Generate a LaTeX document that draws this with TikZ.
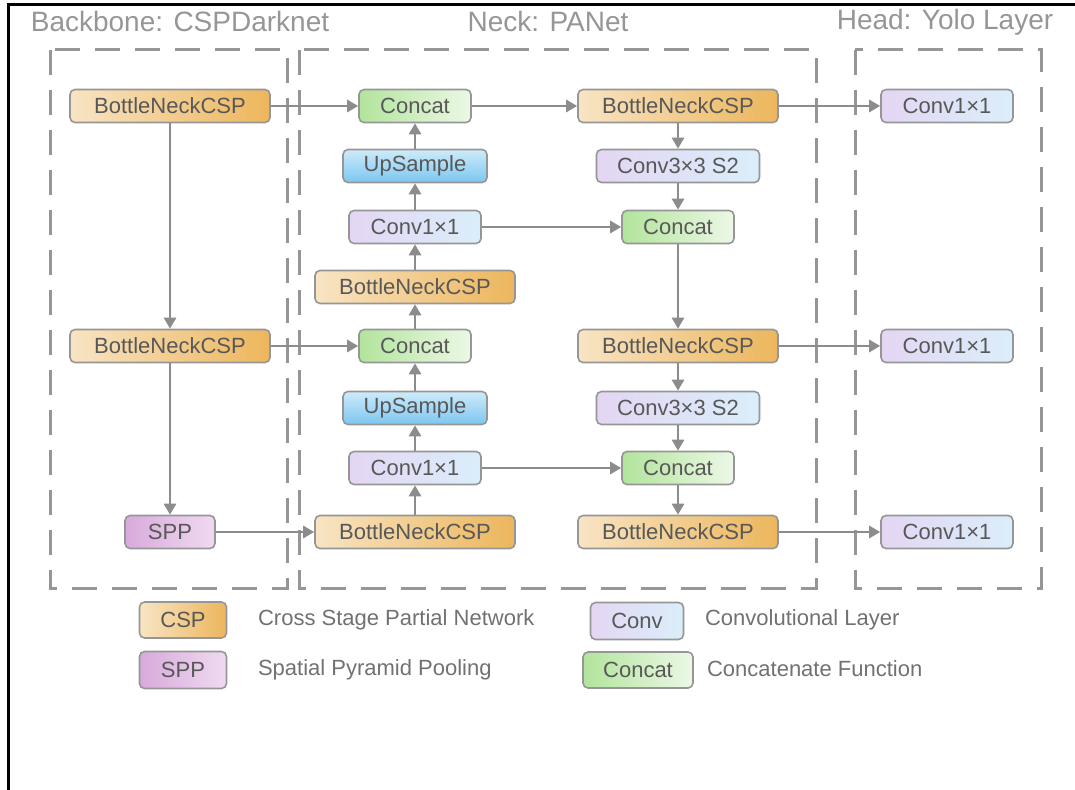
\documentclass[tikz,border=0pt]{standalone}
\usepackage{fontspec}
\setmainfont{Liberation Sans}
\usepackage{tikz}
\usepackage{xcolor}
\usetikzlibrary{arrows.meta}
\pgfdeclarelayer{bg}
\pgfsetlayers{bg,main}
\definecolor{Frame-G}{RGB}{150, 150, 150}
\definecolor{Edge-G}{RGB}{140, 140, 140}
\definecolor{Text-G}{RGB}{88, 88, 88}
\definecolor{Title-G}{RGB}{150, 150, 150}
\definecolor{Csp-A}{RGB}{248, 228, 196}
\definecolor{Csp-B}{RGB}{236, 182, 92}
\definecolor{Conv-A}{RGB}{228, 214, 243}
\definecolor{Conv-B}{RGB}{218, 238, 250}
\definecolor{Cat-A}{RGB}{178, 228, 156}
\definecolor{Cat-B}{RGB}{236, 248, 230}
\definecolor{Up-A}{RGB}{206, 235, 250}
\definecolor{Up-B}{RGB}{124, 198, 240}
\definecolor{Spp-A}{RGB}{216, 170, 220}
\definecolor{Spp-B}{RGB}{240, 218, 240}

\tikzset{
    block/.style={draw=Frame-G, line width=0.8pt, rounded corners=2.5pt, inner sep=0pt,
	minimum height=16.5pt, text=Text-G, font=\fontsize{11}{13}\selectfont},
    csp/.style={block, left color=Csp-A, right color=Csp-B, minimum width=100pt},
    conv/.style={block, left color=Conv-A, right color=Conv-B, minimum width=66pt},
    concat/.style={block, left color=Cat-A, right color=Cat-B, minimum width=56pt},
    upsample/.style={block, top color=Up-A, bottom color=Up-B, minimum width=72pt},
    spp/.style={block, left color=Spp-A, right color=Spp-B, minimum width=45pt},
    stage/.style={draw=Frame-G, line width=1.5pt, dash pattern=on 12.5pt off 7.5pt},
    link/.style={draw=Edge-G, line width=1.4pt, -{Triangle[length=5.5pt, width=6pt]}},
    title/.style={text=Title-G, font=\fontsize{14}{16}\selectfont},
    legend/.style={anchor=west, text=Text-G!85!white, font=\fontsize{11}{13}\selectfont}
}

\begin{document}
\begin{tikzpicture}[x=0.5pt, y=-0.5pt]

    \useasboundingbox (0,0) rectangle (1075,790);
    \draw[line width=1.5pt] (1075,5) -- (8,5) -- (8,790);

    \node[title] (backbone) at (180,22) {Backbone: CSPDarknet};
    \node[title] (neck) at (548,22) {Neck: PANet};
    \node[title] (head) at (945,22) {Head: Yolo Layer};

    \begin{pgfonlayer}{bg}
    \draw[stage] (50,50) rectangle (287,588);
    \draw[stage] (299,50) rectangle (816,588);
    \draw[stage] (855,50) rectangle (1041,588);
    \end{pgfonlayer}

    \node[csp] (bbA) at (170,106) {BottleNeckCSP};
    \node[csp] (bbB) at (170,346) {BottleNeckCSP};
    \node[spp] (sppA) at (170,532) {SPP};

    \node[concat] (catA) at (415,106) {Concat};
    \node[upsample] (upA) at (415,166) {UpSample};
    \node[conv] (convA) at (415,227) {Conv1×1};
    \node[csp] (nkA) at (415,287) {BottleNeckCSP};
    \node[concat] (catB) at (415,346) {Concat};
    \node[upsample] (upB) at (415,408) {UpSample};
    \node[conv] (convB) at (415,468) {Conv1×1};
    \node[csp] (nkB) at (415,532) {BottleNeckCSP};

    \node[csp] (nkC) at (678,106) {BottleNeckCSP};
    \node[conv, minimum width=81.5pt] (downA) at (678,166) {Conv3×3 S2};
    \node[concat] (catC) at (678,227) {Concat};
    \node[csp] (nkD) at (678,346) {BottleNeckCSP};
    \node[conv, minimum width=81.5pt] (downB) at (678,408) {Conv3×3 S2};
    \node[concat] (catD) at (678,468) {Concat};
    \node[csp] (nkE) at (678,532) {BottleNeckCSP};

    \node[conv] (yoloA) at (947,106) {Conv1×1};
    \node[conv] (yoloB) at (947,346) {Conv1×1};
    \node[conv] (yoloC) at (947,532) {Conv1×1};

    \draw[link] (bbA) -- (bbB);
    \draw[link] (bbB) -- (sppA);
    \draw[link] (bbA) -- (catA);
    \draw[link] (bbB) -- (catB);
    \draw[link] (sppA) -- (nkB);

    \draw[link] (nkB) -- (convB);
    \draw[link] (convB) -- (upB);
    \draw[link] (upB) -- (catB);
    \draw[link] (catB) -- (nkA);
    \draw[link] (nkA) -- (convA);
    \draw[link] (convA) -- (upA);
    \draw[link] (upA) -- (catA);

    \draw[link] (catA) -- (nkC);
    \draw[link] (convA) -- (catC);
    \draw[link] (convB) -- (catD);
    \draw[link] (nkC) -- (downA);
    \draw[link] (downA) -- (catC);
    \draw[link] (catC) -- (nkD);
    \draw[link] (nkD) -- (downB);
    \draw[link] (downB) -- (catD);
    \draw[link] (catD) -- (nkE);

    \draw[link] (nkC) -- (yoloA);
    \draw[link] (nkD) -- (yoloB);
    \draw[link] (nkE) -- (yoloC);

    \node[csp, minimum width=43.5pt, minimum height=18pt] (keyCsp) at (183,620) {CSP};
    \node[spp, minimum width=43.5pt, minimum height=18.5pt] (keySpp) at (183,670) {SPP};
    \node[conv, minimum width=46.5pt, minimum height=18.5pt] (keyConv) at (637,621) {Conv};
    \node[concat, minimum width=55pt, minimum height=18pt] (keyCat) at (638,670) {Concat};

    \node[legend] (txtCsp) at (251,620) {Cross Stage Partial Network};
    \node[legend] (txtSpp) at (251,670) {Spatial Pyramid Pooling};
    \node[legend] (txtConv) at (698,620) {Convolutional Layer};
    \node[legend] (txtCat) at (700,669) {Concatenate Function};

\end{tikzpicture}
\end{document}
